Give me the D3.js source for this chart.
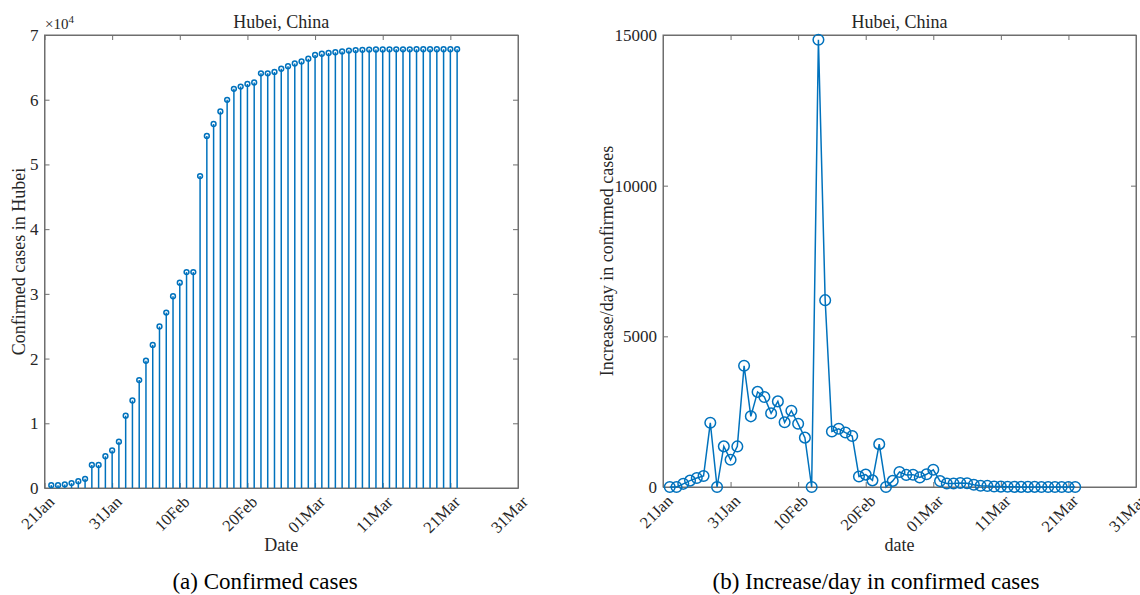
<!DOCTYPE html>
<html>
<head>
<meta charset="utf-8">
<script src="https://cdn.jsdelivr.net/npm/d3@7"></script>
<style>
  body { margin: 0; background: #fff; }
  svg text { font-family: "Liberation Serif", "DejaVu Serif", serif; fill: #262626; }
</style>
</head>
<body>
<svg id="fig" width="1140" height="595"></svg>
<script>
// Days with data, 22 Jan to 22 Mar 2020
let startDay = new Date(2020, 0, 22);
let dates = d3.timeDays(startDay, new Date(2020, 2, 23));

// Cumulative confirmed cases in Hubei
let confirmed = [444, 444, 549, 761, 1058, 1423, 3554, 3554, 4903, 5806,
    7153, 11177, 13522, 16678, 19665, 22112, 24953, 27100, 29631, 31728,
    33366, 33366, 48206, 54406, 56249, 58182, 59989, 61682, 62031, 62442,
    62662, 64084, 64084, 64287, 64786, 65187, 65596, 65914, 66337, 66907,
    67103, 67217, 67332, 67466, 67592, 67666, 67707, 67743, 67760, 67773,
    67781, 67786, 67790, 67794, 67798, 67799, 67800, 67800, 67800, 67800, 67800];

// Increase per day in confirmed cases
let increase = [0, 0, 105, 212, 297, 365, 2131, 0, 1349, 903,
    1347, 4024, 2345, 3156, 2987, 2447, 2841, 2147, 2531, 2097,
    1638, 0, 14840, 6200, 1843, 1933, 1807, 1693, 349, 411,
    220, 1422, 0, 203, 499, 401, 409, 318, 423, 570,
    196, 114, 115, 134, 126, 74, 41, 36, 17, 13,
    8, 5, 4, 4, 4, 1, 1, 0, 0, 0, 0];

// Tick values / labels
let xTicks = d3.timeDay.range(new Date(2020, 0, 21), new Date(2020, 3, 1), 10);
let leftYTicks = [0, 1, 2, 3, 4, 5, 6, 7];
let rightYTicks = [0, 5000, 10000, 15000];

let BLUE = '#0072BD';
let AXIS = '#6e6e6e';
let TICK_LEN = 5;

let svg = d3.select('#fig');

// Draws one panel, axes box + ticks + labels
function draw_panel(opt) {
    let g = svg.append('g');

    let xScale = d3.scaleTime()
        .domain([new Date(2020, 0, 21), new Date(2020, 2, 31)])
        .range([opt.left, opt.right]);

    let yScale = d3.scaleLinear()
        .domain(opt.yDomain)
        .range([opt.bottom, opt.top]);

    // bottom axis
    let xAxis = g.append('g')
        .attr('transform', `translate(0,${opt.bottom})`)
        .call(d3.axisBottom(xScale)
            .tickValues(xTicks)
            .tickFormat(d3.timeFormat('%d%b'))
            .tickSizeInner(-TICK_LEN).tickSizeOuter(0));
    xAxis.selectAll('text')
        .attr('transform', 'rotate(-45)')
        .attr('text-anchor', 'end')
        .attr('dx', '-0.2em')
        .attr('dy', '0.6em')
        .attr('y', 8)
        .style('font-size', '16.5px');

    // top ticks
    g.append('g')
        .attr('transform', `translate(0,${opt.top})`)
        .call(d3.axisTop(xScale).tickValues(xTicks).tickFormat('')
            .tickSizeInner(-TICK_LEN).tickSizeOuter(0));

    // left axis
    let yAxis = g.append('g')
        .attr('transform', `translate(${opt.left},0)`)
        .call(d3.axisLeft(yScale)
            .tickValues(opt.yTicks)
            .tickFormat(opt.yFormat)
            .tickSizeInner(-TICK_LEN).tickSizeOuter(0));
    yAxis.selectAll('text')
        .attr('x', -6)
        .style('font-size', '17px');

    // right ticks
    g.append('g')
        .attr('transform', `translate(${opt.right},0)`)
        .call(d3.axisRight(yScale).tickValues(opt.yTicks).tickFormat('')
            .tickSizeInner(-TICK_LEN).tickSizeOuter(0));

    g.selectAll('.domain').attr('stroke', AXIS);
    g.selectAll('.tick line').attr('stroke', AXIS);
    g.selectAll('.tick text').attr('fill', '#262626')
        .style('font-family', '"Liberation Serif", serif');

    // box
    g.append('rect')
        .attr('x', opt.left).attr('y', opt.top)
        .attr('width', opt.right - opt.left)
        .attr('height', opt.bottom - opt.top)
        .attr('fill', 'none').attr('stroke', AXIS).attr('stroke-width', 1);

    // title
    g.append('text')
        .attr('x', (opt.left + opt.right) / 2).attr('y', 28)
        .attr('text-anchor', 'middle')
        .style('font-size', '18px')
        .text('Hubei, China');

    // x label
    g.append('text')
        .attr('x', (opt.left + opt.right) / 2).attr('y', 551)
        .attr('text-anchor', 'middle')
        .style('font-size', '18px')
        .text(opt.xLabel);

    // y label
    g.append('text')
        .attr('transform', `translate(${opt.yLabelX},${(opt.top + opt.bottom) / 2}) rotate(-90)`)
        .attr('text-anchor', 'middle')
        .style('font-size', '18px')
        .text(opt.yLabel);

    // caption
    g.append('text')
        .attr('x', opt.captionX).attr('y', 589)
        .attr('text-anchor', 'middle')
        .style('font-size', '23px')
        .style('fill', '#000')
        .text(opt.caption);

    return {g: g, xScale: xScale, yScale: yScale};
}

// (a) cumulative stems
let pa = draw_panel({
    left: 44.5, right: 518, top: 35, bottom: 488,
    yDomain: [0, 7], yTicks: leftYTicks, yFormat: d3.format('d'),
    xLabel: 'Date', yLabel: 'Confirmed cases in Hubei', yLabelX: 25,
    caption: '(a) Confirmed cases', captionX: 265
});

let stems = pa.g.append('g');
stems.selectAll('line')
    .data(dates)
    .join('line')
    .attr('x1', d => pa.xScale(d))
    .attr('x2', d => pa.xScale(d))
    .attr('y1', pa.yScale(0))
    .attr('y2', (d, i) => pa.yScale(confirmed[i] / 1e4))
    .attr('stroke', BLUE)
    .attr('stroke-width', 1.5);
stems.selectAll('circle')
    .data(dates)
    .join('circle')
    .attr('cx', d => pa.xScale(d))
    .attr('cy', (d, i) => pa.yScale(confirmed[i] / 1e4))
    .attr('r', 2.4)
    .attr('fill', 'none')
    .attr('stroke', BLUE)
    .attr('stroke-width', 1.5);

// exponent label
let expo = pa.g.append('text')
    .attr('x', 45).attr('y', 29)
    .style('font-size', '15px');
expo.append('tspan').text('\u00d710');
expo.append('tspan').attr('dy', -6).style('font-size', '11px').text('4');

// (b) daily increase line
let pb = draw_panel({
    left: 663, right: 1136, top: 35, bottom: 487,
    yDomain: [0, 15000], yTicks: rightYTicks, yFormat: d3.format('d'),
    xLabel: 'date', yLabel: 'Increase/day in confirmed cases', yLabelX: 613,
    caption: '(b) Increase/day in confirmed cases', captionX: 876
});

pb.g.append('path')
    .datum(dates)
    .attr('d', d3.line()
        .x(d => pb.xScale(d))
        .y((d, i) => pb.yScale(increase[i])))
    .attr('fill', 'none')
    .attr('stroke', BLUE)
    .attr('stroke-width', 1.5);

pb.g.append('g').selectAll('circle')
    .data(dates)
    .join('circle')
    .attr('cx', d => pb.xScale(d))
    .attr('cy', (d, i) => pb.yScale(increase[i]))
    .attr('r', 5.3)
    .attr('fill', 'none')
    .attr('stroke', BLUE)
    .attr('stroke-width', 1.5);
</script>
</body>
</html>
